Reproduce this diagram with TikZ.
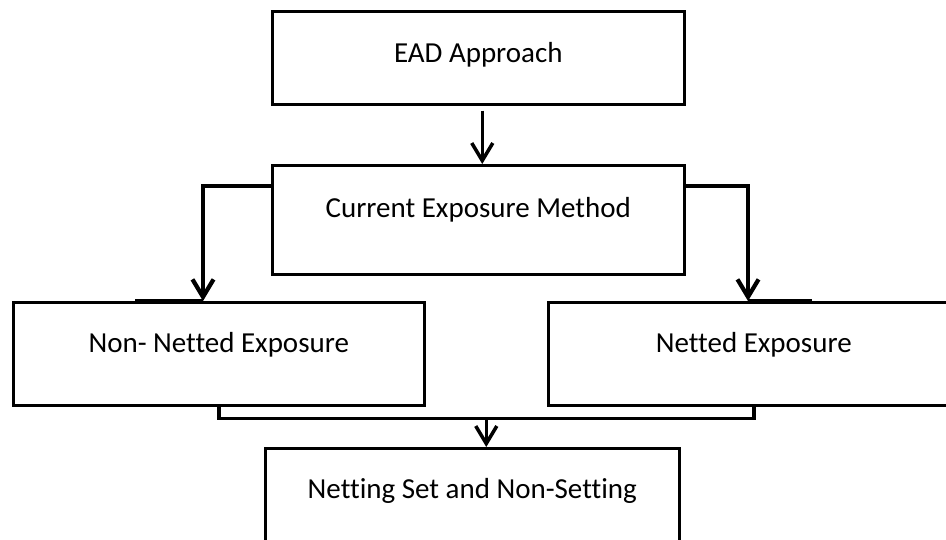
\documentclass[tikz,border=0pt]{standalone}
\usepackage{fontspec}
\setmainfont[Ligatures=NoCommon]{Carlito}
\usetikzlibrary{arrows.meta,calc}

\tikzset{
  box/.style={draw, line width=1.5pt, inner sep=0pt, anchor=north west,
    font=\fontsize{16.5}{20}\selectfont},
  link/.style={line width=2pt},
  arrow/.style={link, -{Straight Barb[length=10pt,width=12pt]}},
}

\begin{document}
\begin{tikzpicture}[x=0.02cm, y=-0.02cm]
\path[use as bounding box, clip] (0,0) rectangle (946,539);
\node[box, minimum width=8.24cm, text height=1.02cm, text depth=0.84cm] (ead) at (271,10) {EAD Approach};
\node[box, minimum width=8.24cm, text height=1.04cm, text depth=1.14cm] (cem) at (271,164) {Current Exposure Method};
\node[box, minimum width=8.22cm, text height=1.0cm, text depth=1.06cm] (nonnet) at (12,301) {Non- Netted Exposure};
\node[box, minimum width=8.22cm, text height=1.0cm, text depth=1.06cm] (net) at (547,301) {Netted Exposure};
\node[box, minimum width=8.28cm, text height=1.0cm, text depth=1.2cm] (netset) at (264,447) {Netting Set and Non-Setting};
% top arrow
\draw[arrow, shorten <=0.1cm] ($(ead.south)+(4,0)$) -- ($(cem.north)+(4,0)$);
% branches
\draw[arrow, line width=2.4pt] ($(cem.north west)+(0,22)$) -| ($(nonnet.north west)+(191,0)$);
\draw[arrow, line width=2.4pt] ($(cem.north east)+(0,22)$) -| ($(net.north west)+(201,0)$);
\draw[link] ($(nonnet.north west)+(123,0)$) -- ($(nonnet.north west)+(191,0)$);
\draw[link] ($(net.north west)+(201,0)$) -- ($(net.north west)+(265,0)$);
% join
\draw[link] (nonnet.south) -- ++(0,12) -| (net.south);
\coordinate (join) at ($(nonnet.south)!0.5!(net.south)+(0,12)$);
\draw[arrow] (join) -- (join |- netset.north);
\end{tikzpicture}
\end{document}
